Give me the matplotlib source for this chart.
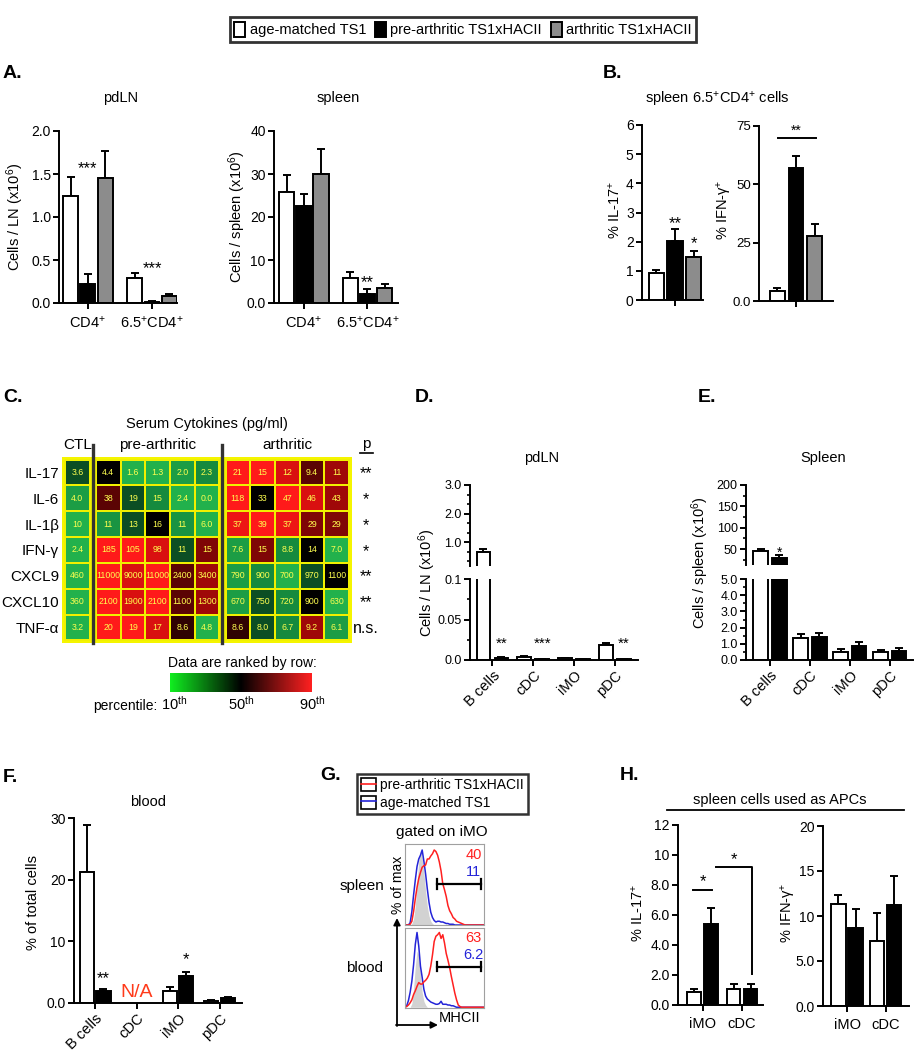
import numpy as np
import pandas as pd
import matplotlib
matplotlib.use('Agg')
import matplotlib.pyplot as plt
from matplotlib.colors import LinearSegmentedColormap, Normalize
from matplotlib.patches import Patch
from matplotlib.lines import Line2D
from matplotlib.legend_handler import HandlerTuple
import matplotlib.cm as cm

plt.rcParams['font.family'] = ['Liberation Sans', 'DejaVu Sans']
plt.rcParams['mathtext.fontset'] = 'custom'
plt.rcParams['mathtext.rm'] = 'Liberation Sans'
plt.rcParams['mathtext.it'] = 'Liberation Sans:italic'
plt.rcParams['mathtext.bf'] = 'Liberation Sans:bold'
plt.rcParams['axes.linewidth'] = 1.4

# ---------------- data ----------------
group_names = ['age-matched TS1', 'pre-arthritic TS1xHACII', 'arthritic TS1xHACII']

# A. cell counts (mean, sem)
a_groups = ['CD4$^{+}$', '6.5$^{+}$CD4$^{+}$']
ln_ts1, ln_ts1_sem = [1.25, 0.29], [0.22, 0.06]
ln_pre, ln_pre_sem = [0.22, 0.01], [0.12, 0.01]
ln_arth, ln_arth_sem = [1.45, 0.08], [0.32, 0.03]
spl_ts1, spl_ts1_sem = [25.8, 5.9], [3.9, 1.2]
spl_pre, spl_pre_sem = [22.6, 2.1], [2.7, 1.1]
spl_arth, spl_arth_sem = [30.1, 3.5], [5.8, 1.0]

# B. spleen 6.5+CD4+ cells (ts1, pre, arth)
b_il17, b_il17_sem = [0.92, 2.02, 1.47], [0.10, 0.40, 0.20]
b_ifng, b_ifng_sem = [4.5, 57.0, 28.0], [1.0, 5.0, 5.0]

# C. serum cytokines
cyto_names = ['IL-17', 'IL-6', 'IL-1β', 'IFN-γ', 'CXCL9', 'CXCL10', 'TNF-α']
il17 = [3.6, 4.4, 1.6, 1.3, 2.0, 2.3, 21, 15, 12, 9.4, 11]
il6 = [4.0, 38, 19, 15, 2.4, 0.0, 118, 33, 47, 46, 43]
il1b = [10, 11, 13, 16, 11, 6.0, 37, 39, 37, 29, 29]
ifng = [2.4, 185, 105, 98, 11, 15, 7.6, 15, 8.8, 14, 7.0]
cxcl9 = [460, 11000, 9000, 11000, 2400, 3400, 790, 900, 700, 970, 1100]
cxcl10 = [360, 2100, 1900, 2100, 1100, 1300, 670, 750, 720, 900, 630]
tnfa = [3.2, 20, 19, 17, 8.6, 4.8, 8.6, 8.0, 6.7, 9.2, 6.1]
cyto_p = ['**', '*', '*', '*', '**', '**', 'n.s.']
cyto_blocks = ['CTL', 'pre-arthritic', 'arthritic']
block_cols = [(0, 1), (1, 6), (6, 11)]

# D/E/F. APC subsets (ts1, pre)
cells = ['B cells', 'cDC', 'iMO', 'pDC']
d_ts1, d_ts1_sem = [0.65, 0.004, 0.002, 0.018], [0.10, 0.0012, 0.0006, 0.003]
d_pre, d_pre_sem = [0.002, 0.001, 0.001, 0.001], [0.0012, 0.0003, 0.0003, 0.0003]
e_ts1, e_ts1_sem = [45, 1.35, 0.50, 0.50], [5, 0.25, 0.20, 0.10]
e_pre, e_pre_sem = [28, 1.40, 0.85, 0.58], [9, 0.25, 0.25, 0.17]
f_ts1, f_ts1_sem = [21.3, np.nan, 2.0, 0.40], [7.5, np.nan, 0.6, 0.10]
f_pre, f_pre_sem = [1.9, np.nan, 4.4, 0.75], [0.3, np.nan, 0.7, 0.25]

# G. MHCII histograms (% of max, per channel)
iso_spleen = [0, 0, 0, 0, 2, 8, 25, 55, 85, 100, 90, 70, 45, 25, 12, 5, 2] + [0] * 30
blue_spleen = [0, 0, 0, 3, 18, 40, 60, 78, 88, 93, 100, 85, 68, 48, 30, 17, 10, 6, 4, 5, 5, 4, 4, 3,
               2, 2, 1, 1, 1] + [0] * 18
red_spleen = [0, 0, 0, 1, 5, 18, 35, 50, 62, 70, 77, 79, 80, 88, 88, 92, 95, 100, 98, 93, 84, 72, 55,
              47, 38, 26, 19, 15, 10, 8, 5, 4, 3, 2, 1] + [0] * 12
iso_blood = [0, 0, 0, 0, 5, 25, 55, 75, 70, 45, 20, 8, 3] + [0] * 34
blue_blood = [0, 2, 9, 20, 35, 57, 84, 100, 82, 55, 40, 24, 15, 11, 9, 7, 6, 5, 4, 4, 5, 8, 4, 4, 4,
              3, 3, 2, 2, 1] + [0] * 17
red_blood = [0, 1, 3, 6, 10, 17, 22, 28, 33, 31, 31, 34, 36, 39, 44, 55, 70, 88, 95, 97, 100, 92, 97,
             86, 72, 63, 53, 41, 30, 19, 10, 3, 1] + [0] * 14
gate_lo, gate_hi = 18.4, 44.1
pct_spleen = ['40', '11']
pct_blood = ['63', '6.2']

# H. T cell responses to spleen APCs (ts1, pre)
h_groups = ['iMO', 'cDC']
h_il17_ts1, h_il17_ts1_sem = [0.9, 1.05], [0.15, 0.35]
h_il17_pre, h_il17_pre_sem = [5.4, 1.1], [1.1, 0.3]
h_ifng_ts1, h_ifng_ts1_sem = [11.3, 7.2], [1.0, 3.1]
h_ifng_pre, h_ifng_pre_sem = [8.7, 11.2], [2.1, 3.2]

# ---------------- figure ----------------
W, H = 915, 1050
fig = plt.figure(figsize=(W / 100, H / 100), dpi=100)
white, black, gray = 'white', 'black', '#8c8c8c'
colors3 = [white, black, gray]
red_c, blue_c = '#ff2020', '#2424d8'


def box(x0, y0, x1, y1):
    return fig.add_axes([x0 / W, 1 - y1 / H, (x1 - x0) / W, (y1 - y0) / H])


ov = fig.add_axes([0, 0, 1, 1], zorder=10)
ov.set_xlim(0, W)
ov.set_ylim(H, 0)
ov.axis('off')


def txt(x, y, s, fs=10.5, **kw):
    kw.setdefault('ha', 'center')
    kw.setdefault('va', 'center')
    ov.text(x, y, s, fontsize=fs, **kw)


def style(ax, fs=10):
    for s in ['top', 'right']:
        ax.spines[s].set_visible(False)
    ax.tick_params(direction='out', length=4.5, width=1.4, labelsize=fs, pad=1.5)
    ax.tick_params(which='minor', direction='out', length=2.5, width=1.2)
    ax.patch.set_alpha(0)


def bars(ax, x, vals, errs, col, width, lw=1.4, cap=3.2):
    x = np.asarray(x, float)
    vals = np.asarray(vals, float)
    errs = np.asarray(errs, float)
    ok = ~np.isnan(vals)
    ax.bar(x[ok], vals[ok], width, color=col, edgecolor='black', linewidth=lw, zorder=2)
    ax.errorbar(x[ok], vals[ok], yerr=[np.zeros(ok.sum()), errs[ok]], fmt='none',
                ecolor='black', elinewidth=lw, capsize=cap, capthick=lw, zorder=1)


def star(ax, x, y, s, fs=12):
    ax.text(x, y, s, ha='center', va='center', fontsize=fs, zorder=4)


# top legend
leg_handles = [Patch(facecolor=c, edgecolor='black', linewidth=1.4) for c in colors3]
leg = fig.legend(leg_handles, group_names, loc='center', bbox_to_anchor=(463 / W, 1 - 29.5 / H),
                 ncol=3, fontsize=10.5, frameon=True, fancybox=False, edgecolor='black',
                 handlelength=0.75, handleheight=1.3, handletextpad=0.3, columnspacing=0.6,
                 borderpad=0.3, borderaxespad=0)
leg.get_frame().set_linewidth(2)

# panel letters
for s, x, y in [('A.', 3, 74), ('B.', 603, 74), ('C.', 3, 397), ('D.', 415, 398),
                ('E.', 698, 398), ('F.', 3, 777), ('G.', 320, 776), ('H.', 620, 776)]:
    txt(x, y, s, fs=14, ha='left', fontweight='bold')

# ---------- A ----------
axA1 = box(59, 131, 177, 303)
style(axA1)
for v, e, c, off in zip([ln_ts1, ln_pre, ln_arth], [ln_ts1_sem, ln_pre_sem, ln_arth_sem],
                        colors3, [-0.27, 0, 0.27]):
    bars(axA1, np.arange(2) + off, v, e, c, 0.23)
axA1.set_xlim(-0.45, 1.39)
axA1.set_ylim(0, 2.0)
axA1.set_yticks([0, 0.5, 1.0, 1.5, 2.0], ['0.0', '0.5', '1.0', '1.5', '2.0'])
axA1.set_xticks([0, 1], a_groups, fontsize=10.5)
axA1.tick_params(axis='x', pad=4)
star(axA1, 0, 1.56, '***')
star(axA1, 1, 0.40, '***')
txt(121, 98, 'pdLN')
txt(15, 217, 'Cells / LN (x10$^{6}$)', rotation=90)

axA2 = box(274, 131, 398, 303)
style(axA2)
for v, e, c, off in zip([spl_ts1, spl_pre, spl_arth], [spl_ts1_sem, spl_pre_sem, spl_arth_sem],
                        colors3, [-0.27, 0, 0.27]):
    bars(axA2, np.arange(2) + off, v, e, c, 0.24)
axA2.set_xlim(-0.47, 1.48)
axA2.set_ylim(0, 40)
axA2.set_yticks([0, 10, 20, 30, 40], ['0.0', '10', '20', '30', '40'])
axA2.set_xticks([0, 1], a_groups, fontsize=10.5)
axA2.tick_params(axis='x', pad=4)
star(axA2, 1, 4.8, '**')
txt(338, 98, 'spleen')
txt(237, 217, 'Cells / spleen (x10$^{6}$)', rotation=90)

# ---------- B ----------
axB1 = box(642, 125, 703, 300)
style(axB1)
axB1.bar([-1, 0, 1], b_il17, 0.81, color=colors3, edgecolor='black', linewidth=1.4, zorder=2)
axB1.errorbar([-1, 0, 1], b_il17, yerr=[[0, 0, 0], b_il17_sem], fmt='none', ecolor='black',
              elinewidth=1.4, capsize=3.2, capthick=1.4, zorder=1)
axB1.set_xlim(-1.78, 1.51)
axB1.set_ylim(0, 6)
axB1.set_yticks(range(7))
axB1.set_xticks([0], [''])
star(axB1, 0, 2.62, '**')
star(axB1, 1, 1.92, '*')
txt(615, 210, '% IL-17$^{+}$', rotation=90)

axB2 = box(759, 126, 833, 301)
style(axB2, fs=9.5)
axB2.bar([-1, 0, 1], b_ifng, 0.79, color=colors3, edgecolor='black', linewidth=1.4, zorder=2)
axB2.errorbar([-1, 0, 1], b_ifng, yerr=[[0, 0, 0], b_ifng_sem], fmt='none', ecolor='black',
              elinewidth=1.4, capsize=3.2, capthick=1.4, zorder=1)
axB2.set_xlim(-1.95, 1.95)
axB2.set_ylim(0, 75)
axB2.set_yticks([0, 25, 50, 75], ['0.0', '25', '50', '75'])
axB2.set_xticks([0], [''])
axB2.plot([-0.95, 1.05], [69.9, 69.9], color='black', lw=1.4, clip_on=False)
star(axB2, 0, 73, '**', fs=10)
txt(725, 210, '% IFN-γ$^{+}$', rotation=90)
txt(717, 99, 'spleen 6.5$^{+}$CD4$^{+}$ cells')

# ---------- C heatmap ----------
cyto = np.array([il17, il6, il1b, ifng, cxcl9, cxcl10, tnfa], float)
pct = np.array([(pd.Series(r).rank(method='average').values - 1) / (len(r) - 1) for r in cyto])
hm_cmap = LinearSegmentedColormap.from_list(
    'hm', [(0, '#22b14c'), (0.25, '#168a3e'), (0.375, '#0c4f24'), (0.5, '#000000'),
           (0.625, '#5a0404'), (0.75, '#a00808'), (0.875, '#d81010'), (1, '#ff1a1a')])
bar_cmap = LinearSegmentedColormap.from_list('bar', ['#10ee20', '#000000', '#ff2020'])
hm_norm = Normalize(0.1, 0.9)

axC = box(62, 457, 352, 643)
axC.set_facecolor('#f5f500')
block_x0 = [0, 1.25, 6.5]
for (c0, c1), x0 in zip(block_cols, block_x0):
    xe = x0 + np.arange(c1 - c0 + 1)
    axC.pcolormesh(xe, np.arange(8), pct[:, c0:c1], cmap=hm_cmap, norm=hm_norm,
                   edgecolors='#f0f000', linewidth=1.3)
    for r in range(cyto.shape[0]):
        for c in range(c0, c1):
            v = cyto[r, c]
            lab = f'{v:.1f}' if v < 10 else f'{v:.0f}'
            axC.text(x0 + (c - c0) + 0.5, r + 0.5, lab, ha='center', va='center',
                     fontsize=6.3, color='#ffff50')
axC.set_xlim(-0.12, 11.62)
axC.set_ylim(7.1, -0.1)
for s in axC.spines.values():
    s.set_visible(False)
axC.set_xticks([])
axC.set_yticks(np.arange(7) + 0.5, cyto_names, fontsize=11)
axC.tick_params(axis='y', length=0, pad=2)
for xs in [1.125, 6.375]:
    axC.plot([xs, xs], [7.1, -0.57], color='#333333', lw=2.4, clip_on=False)
for r, p in enumerate(cyto_p):
    axC.text(12.2, r + 0.55, p, ha='center', va='center', fontsize=11.5, clip_on=False)
for lab, xc in zip(cyto_blocks, [0.5, 3.75, 9.0]):
    axC.text(xc, -0.55, lab, ha='center', va='center', fontsize=11)
axC.text(12.2, -0.6, 'p', ha='center', va='center', fontsize=11)
axC.plot([11.95, 12.45], [-0.24, -0.24], color='black', lw=1.2, clip_on=False)
axC.text(5.75, -1.38, 'Serum Cytokines (pg/ml)', ha='center', va='center', fontsize=10.5)

cax = box(170, 673, 312, 692)
cb = fig.colorbar(cm.ScalarMappable(norm=Normalize(10, 90), cmap=bar_cmap), cax=cax,
                  orientation='horizontal', ticks=[])
cb.outline.set_visible(False)
txt(242, 663, 'Data are ranked by row:', fs=10)
txt(157, 706, 'percentile:', fs=10, ha='right')
for lab, x in [('10$^{\\mathrm{th}}$', 174), ('50$^{\\mathrm{th}}$', 241), ('90$^{\\mathrm{th}}$', 312)]:
    txt(x, 704, lab, fs=10.5)


# ---------- D / E broken axes ----------
def broken(top_box, bot_box, top_lim, bot_lim, xlim, fs=9):
    t = box(*top_box)
    b = box(*bot_box)
    for a, lim in ((t, top_lim), (b, bot_lim)):
        style(a, fs)
        a.set_xlim(*xlim)
        a.set_ylim(*lim)
    t.spines['bottom'].set_visible(False)
    t.tick_params(axis='x', bottom=False, labelbottom=False)
    return t, b


dT, dB = broken((470, 485, 638, 566), (470, 579, 638, 660), (0.16, 3.0), (0, 0.1), (-0.55, 3.56))
for a in (dT, dB):
    bars(a, np.arange(4) - 0.22, d_ts1, d_ts1_sem, white, 0.34)
    bars(a, np.arange(4) + 0.22, d_pre, d_pre_sem, black, 0.34)
dT.set_yticks([1, 2, 3], ['1.0', '2.0', '3.0'])
dT.set_yticks([1 / 3, 2 / 3, 4 / 3, 5 / 3, 7 / 3, 8 / 3], minor=True)
dB.set_yticks([0, 0.05, 0.1], ['0.0', '0.05', '0.1'])
dB.set_yticks([0.025, 0.075], minor=True)
dB.set_xticks(range(4))
dB.set_xticklabels(cells, rotation=45, ha='right', rotation_mode='anchor', fontsize=10.5)
star(dB, 0.22, 0.0205, '**', fs=11)
star(dB, 1.22, 0.0205, '***', fs=11)
star(dB, 3.22, 0.0205, '**', fs=11)
txt(542, 458, 'pdLN')
txt(427, 583, 'Cells / LN (x10$^{6}$)', rotation=90)

eT, eB = broken((746, 485, 913, 565), (746, 579, 913, 660), (12.5, 200), (0, 5), (-0.6, 3.58))
for a in (eT, eB):
    bars(a, np.arange(4) - 0.23, e_ts1, e_ts1_sem, white, 0.37)
    bars(a, np.arange(4) + 0.23, e_pre, e_pre_sem, black, 0.37)
eT.set_yticks([50, 100, 150, 200])
eT.set_yticks([25, 75, 125, 175], minor=True)
eB.set_yticks(range(6), ['0.0', '1.0', '2.0', '3.0', '4.0', '5.0'])
eB.set_yticks(np.arange(0.5, 5, 1.0), minor=True)
eB.set_xticks(range(4))
eB.set_xticklabels(cells, rotation=45, ha='right', rotation_mode='anchor', fontsize=10.5)
star(eT, 0.23, 42, '*', fs=10)
txt(823, 458, 'Spleen')
txt(700, 563, 'Cells / spleen (x10$^{6}$)', rotation=90)

# ---------- F ----------
axF = box(74, 818, 242, 1003)
style(axF)
bars(axF, np.arange(4) - 0.2, f_ts1, f_ts1_sem, white, 0.34)
bars(axF, np.arange(4) + 0.2, f_pre, f_pre_sem, black, 0.34)
axF.set_xlim(-0.51, 3.54)
axF.set_ylim(0, 30)
axF.set_yticks([0, 10, 20, 30], ['0.0', '10', '20', '30'])
axF.set_xticks(range(4))
axF.set_xticklabels(cells, rotation=45, ha='right', rotation_mode='anchor', fontsize=10.5)
star(axF, 0.2, 4.0, '**')
star(axF, 2.2, 7.1, '*')
axF.text(1, 1.7, 'N/A', ha='center', va='center', fontsize=14, color='#ff3a1a')
txt(148, 802, 'blood')
txt(33, 903, '% of total cells', rotation=90)

# ---------- G ----------
ch = np.arange(47)
gS = box(405, 844, 484, 925)
gB = box(405, 928, 484, 1008)
for a, iso, bl, rd, lims, pcts in [(gS, iso_spleen, blue_spleen, red_spleen, (0, 108), pct_spleen),
                                   (gB, iso_blood, blue_blood, red_blood, (-1, 106), pct_blood)]:
    a.fill_between(ch, iso, color='#d2d2d2', lw=0)
    a.plot(ch, bl, color=blue_c, lw=1.1)
    a.plot(ch, rd, color=red_c, lw=1.1)
    a.set_xlim(0, 46)
    a.set_ylim(*lims)
    a.set_xticks([])
    a.set_yticks([])
    for s in a.spines.values():
        s.set_color('#a0a0a0')
        s.set_linewidth(0.8)
    a.plot([gate_lo, gate_hi], [54.5, 54.5], color='black', lw=1.6)
    for gx in (gate_lo, gate_hi):
        a.plot([gx, gx], [48, 61], color='black', lw=1.6)
    a.text(40, 93, pcts[0], ha='center', va='center', fontsize=10.5, color=red_c)
    a.text(40, 70, pcts[1], ha='center', va='center', fontsize=10.5, color=blue_c)

g_handles = [(Patch(facecolor='white', edgecolor='black', linewidth=1.2), Line2D([], [], color=red_c, lw=1.2)),
             (Patch(facecolor='white', edgecolor='black', linewidth=1.2), Line2D([], [], color=blue_c, lw=1.2))]
gleg = fig.legend(g_handles, ['pre-arthritic TS1xHACII', 'age-matched TS1'],
                  handler_map={tuple: HandlerTuple(ndivide=1)}, loc='center',
                  bbox_to_anchor=(442.5 / W, 1 - 794 / H), fontsize=10, frameon=True, fancybox=False,
                  edgecolor='black', handlelength=1.1, handleheight=1.1, handletextpad=0.3,
                  borderpad=0.3, labelspacing=0.25, borderaxespad=0)
gleg.get_frame().set_linewidth(1.8)
txt(442, 832, 'gated on iMO', fs=11)
txt(398, 885, '% of max', rotation=90, fs=10)
txt(362, 886, 'spleen', fs=11)
txt(365, 968, 'blood', fs=11)
txt(460, 1018, 'MHCII', fs=10.5)
ov.annotate('', xy=(397, 918), xytext=(397, 1026),
            arrowprops=dict(arrowstyle='-|>', color='black', lw=1.3, mutation_scale=10, shrinkA=0, shrinkB=0))
ov.annotate('', xy=(438, 1025), xytext=(396, 1025),
            arrowprops=dict(arrowstyle='-|>', color='black', lw=1.3, mutation_scale=10, shrinkA=0, shrinkB=0))

# ---------- H ----------
axH1 = box(678, 825, 763, 1005)
style(axH1)
bars(axH1, np.arange(2) - 0.215, h_il17_ts1, h_il17_ts1_sem, white, 0.35)
bars(axH1, np.arange(2) + 0.215, h_il17_pre, h_il17_pre_sem, black, 0.35)
axH1.set_xlim(-0.62, 1.53)
axH1.set_ylim(0, 12)
axH1.set_yticks(range(0, 13, 2), ['0.0', '2.0', '4.0', '6.0', '8.0', '10', '12'])
axH1.set_xticks(range(2), h_groups, fontsize=10.5)
axH1.tick_params(axis='x', pad=4)
axH1.plot([-0.24, 0.24], [7.7, 7.7], color='black', lw=1.4)
star(axH1, 0, 8.2, '*')
axH1.plot([0.34, 1.25, 1.25], [9.2, 9.2, 2.1], color='black', lw=1.4)
star(axH1, 0.8, 9.7, '*')
txt(638, 913, '% IL-17$^{+}$', rotation=90)

axH2 = box(823, 826, 909, 1006)
style(axH2)
bars(axH2, np.arange(2) - 0.22, h_ifng_ts1, h_ifng_ts1_sem, white, 0.37)
bars(axH2, np.arange(2) + 0.22, h_ifng_pre, h_ifng_pre_sem, black, 0.37)
axH2.set_xlim(-0.62, 1.6)
axH2.set_ylim(0, 20)
axH2.set_yticks([0, 5, 10, 15, 20], ['0.0', '5.0', '10', '15', '20'])
axH2.set_xticks(range(2), h_groups, fontsize=10.5)
axH2.tick_params(axis='x', pad=4)
txt(788, 913, '% IFN-γ$^{+}$', rotation=90)
txt(780, 800, 'spleen cells used as APCs')
ov.plot([667, 904], [810, 810], color='black', lw=1.3)

fig.savefig('out.png', dpi=100, facecolor='white')
